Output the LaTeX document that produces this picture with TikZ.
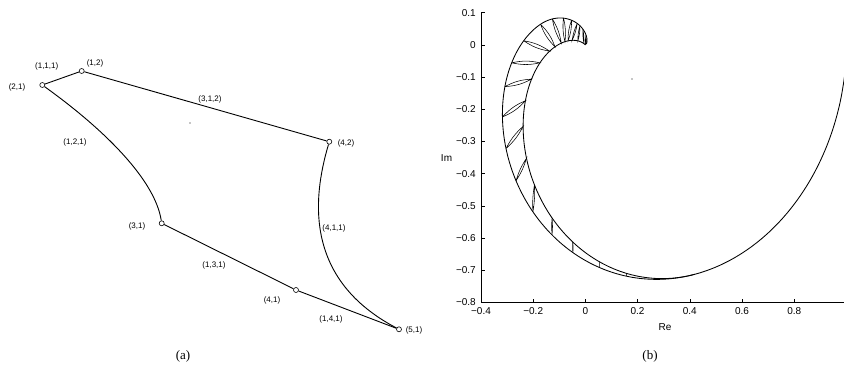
\documentclass[tikz,border=0pt]{standalone}
\usepackage{fontspec}
\setmainfont{Liberation Serif}
\setsansfont{Liberation Sans}
\begin{document}
\begin{tikzpicture}[x=1pt,y=-1pt,
  lab/.style={font=\sffamily\fontsize{8}{9}\selectfont, inner sep=0pt},
  vtx/.style={circle, draw, fill=white, minimum size=5pt, inner sep=0pt, line width=0.6pt},
  edgeline/.style={line width=0.9pt},
  ticklab/.style={font=\sffamily\fontsize{10}{11}\selectfont, inner sep=0pt},
  caplab/.style={font=\rmfamily\fontsize{13}{15}\selectfont, inner sep=0pt},
  axisline/.style={line width=0.9pt},
  bandline/.style={line width=0.85pt, line cap=round, line join=round},
  hatch/.style={line width=0.55pt},
  speck/.style={fill=black!45, draw=none},
  declare function={
    ro(\u)=exp(-0.178*exp(1.8*ln(\u))-0.3*(max(0,\u-3.5))^2);
    qi(\u)=1-0.13*(\u-1.04)*(\u-1.04);
    ox(\u)=ro(\u)*cos(deg(\u));
    oy(\u)=-ro(\u)*sin(deg(\u));
    ix(\u)=ro(\u)*qi(\u)*cos(deg(\u));
    iy(\u)=-ro(\u)*qi(\u)*sin(deg(\u));
  }]
\useasboundingbox (0,0) rectangle (844,372);

% ---------------- panel (a) ----------------
\node[vtx] (v12) at (81.7,71) {};
\node[vtx] (v21) at (42.3,85) {};
\node[vtx] (v42) at (329.3,141.7) {};
\node[vtx] (v31) at (161.7,223.3) {};
\node[vtx] (v41) at (296,290) {};
\node[vtx] (v51) at (399,329.3) {};

\draw[edgeline] (v21) -- (v12);
\draw[edgeline] (v12) -- (v42);
\draw[edgeline] (v21) .. controls (105,130) and (155,180) .. (v31);
\draw[edgeline] (v31) -- (v41);
\draw[edgeline] (v41) -- (v51);
\draw[edgeline] (v42) .. controls (312,200) and (305,280) .. (v51);

\node[lab] (l111) at (46.7,66) {(1,1,1)};
\node[lab] (l12)  at (95,63) {(1,2)};
\node[lab] (l21)  at (17,87) {(2,1)};
\node[lab] (l312) at (210,99) {(3,1,2)};
\node[lab] (l42)  at (346,143) {(4,2)};
\node[lab] (l121) at (75,142) {(1,2,1)};
\node[lab] (l31)  at (137,226) {(3,1)};
\node[lab] (l131) at (214,265) {(1,3,1)};
\node[lab] (l41)  at (272,300) {(4,1)};
\node[lab] (l141) at (331,319) {(1,4,1)};
\node[lab] (l411) at (334,228) {(4,1,1)};
\node[lab] (l51)  at (414,330) {(5,1)};
\fill[speck] (190,123) circle (0.9);

\node[caplab] (capa) at (183,356) {(a)};
\node[caplab] (capb) at (650,356) {(b)};

% ---------------- panel (b) ----------------
\fill[speck] (632,79) circle (0.9);
\begin{scope}[shift={(585.4,44.9)}, x=261pt, y=322pt]
  \draw[axisline] (-0.4,0.1) -- (-0.4,-0.8) -- (1.0,-0.8);
  \foreach \yv/\yt in {0.1/0.1, 0/0, -0.1/−0.1, -0.2/−0.2, -0.3/−0.3, -0.4/−0.4, -0.5/−0.5, -0.6/−0.6, -0.7/−0.7, -0.8/−0.8}{
    \draw[line width=0.6pt] (-0.4,\yv) -- ++(4pt,0pt);
    \node[ticklab, anchor=east, xshift=-5pt] at (-0.4,\yv) {\yt};
  }
  \foreach \xv/\xt in {-0.4/−0.4, -0.2/−0.2, 0/0, 0.2/0.2, 0.4/0.4, 0.6/0.6, 0.8/0.8}{
    \draw[line width=0.6pt] (\xv,-0.8) -- ++(0pt,4pt);
    \node[ticklab, anchor=north, yshift=-5pt] at (\xv,-0.8) {\xt};
  }
  \node[ticklab] (imlab) at (-0.532,-0.35) {Im};
  \node[ticklab] (relab) at (0.305,-0.877) {Re};

  % outer curve
  \draw[bandline] plot[variable=\t, domain=0.1:5.6, samples=360] ({ox(\t)},{oy(\t)});
  % inner curve
  \draw[bandline] plot[variable=\w, domain=1.04:3.81, samples=200] ({ix(\w)},{iy(\w)});

  % hatches
  \foreach \a/\b/\bd in {1.356/1.351/4, 1.494/1.492/4, 1.645/1.650/5, 1.784/1.804/5,
      1.941/1.993/6, 2.133/2.141/8, 2.328/2.327/10, 2.528/2.495/12, 2.744/2.666/12,
      2.947/2.832/12, 3.196/3.0/12, 3.499/3.091/12, 3.709/3.202/10, 3.922/3.269/10,
      4.107/3.329/10, 4.272/3.414/8, 4.374/3.552/8, 4.517/3.747/6, 4.787/3.80/4,
      5.0/3.80/0, 5.2/3.80/0}{
    \draw[hatch] ({ox(\a)},{oy(\a)}) to[bend left=\bd] ({ix(\b)},{iy(\b)})
                 to[bend left=\bd] ({ox(\a)},{oy(\a)});
  }
\end{scope}
\end{tikzpicture}
\end{document}
